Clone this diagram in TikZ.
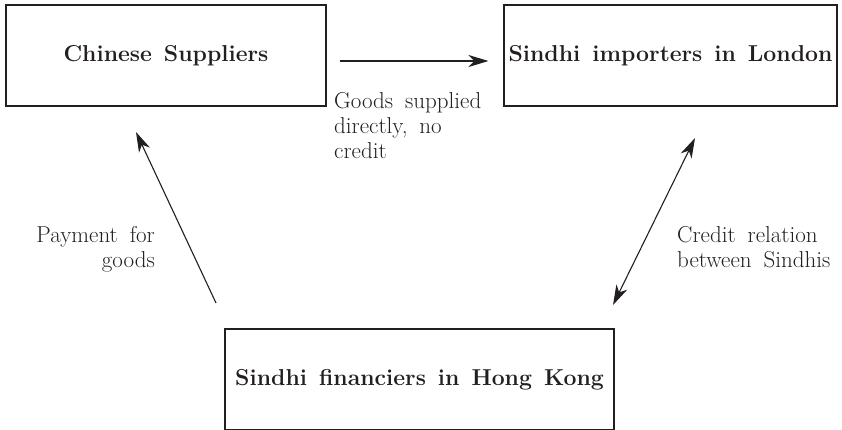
\documentclass[tikz,border=0pt]{standalone}
\usetikzlibrary{arrows.meta}
\newcommand{\widespaces}{\spaceskip=0.52em plus 0.1em\relax}
\definecolor{ink}{RGB}{35,31,32}
\begin{document}
\begin{tikzpicture}[x=1pt,y=-1pt, color=ink,
  box/.style={draw, line width=1.1pt, inner sep=0pt, font=\fontsize{23}{25}\selectfont\bfseries\widespaces},
  lbl/.style={inner sep=0pt, font=\fontsize{23}{25}\selectfont\widespaces},
  arr/.style={line width=1.1pt, -{Stealth[length=20pt,width=12pt,inset=6pt]}},
  darr/.style={line width=1.1pt, {Stealth[length=20pt,width=12pt,inset=6pt]}-{Stealth[length=20pt,width=12pt,inset=6pt]}}]
\useasboundingbox (0,0) rectangle (842,429);

% the three parties
\node[box, minimum width=320pt, minimum height=101pt] (cn) at (166,55.5) {Chinese Suppliers};
\node[box, minimum width=333pt, minimum height=101pt] (ld) at (670.5,55.5) {Sindhi importers in London};
\node[box, minimum width=389pt, minimum height=101pt] (hk) at (419.5,379.5) {Sindhi financiers in Hong Kong};

% flows between them
\draw[arr, shorten <=13pt, shorten >=15pt] ([yshift=-5.5pt]cn.east) -- ([yshift=-5.5pt]ld.west);
\coordinate (pay0) at (216,303);
\coordinate (pay1) at (136,132);
\draw[arr] (pay0) -- (pay1);
\coordinate (cr0) at (613,305);
\coordinate (cr1) at (695,138);
\draw[darr] (cr0) -- (cr1);

% labels (base anchor sits on the last line)
\node[lbl, anchor=base west, align=left] (goods) at (334,158) {Goods supplied\\directly, no\\credit};
\node[lbl, anchor=base east, align=right] (pay) at (155,267) {Payment for\\goods};
\node[lbl, anchor=base west, align=left] (cred) at (677,267) {Credit relation\\between Sindhis};
\end{tikzpicture}
\end{document}
